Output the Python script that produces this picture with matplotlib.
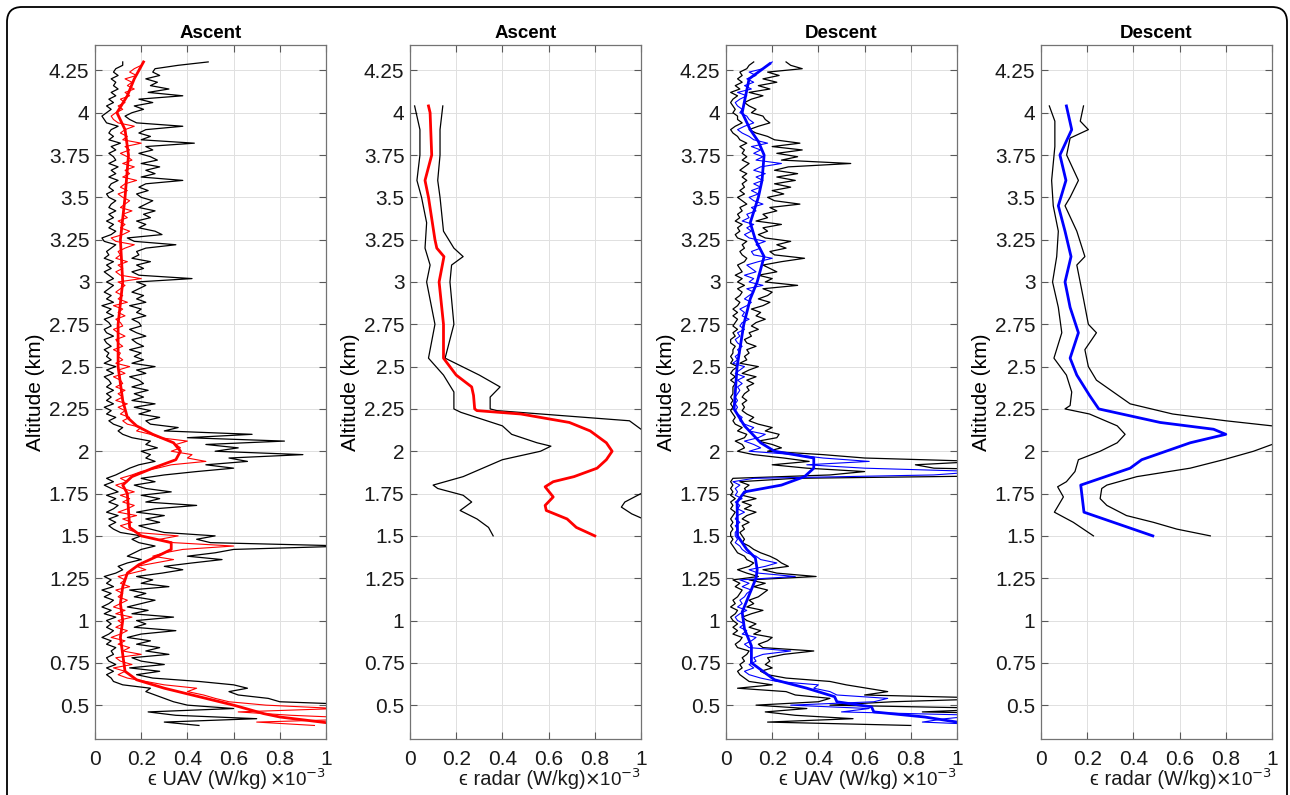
import matplotlib.pyplot as plt
import numpy as np
from matplotlib.patches import FancyBboxPatch

plt.rcParams['font.family'] = ['Liberation Sans', 'DejaVu Sans']

# ---- UAV profiles (altitude in km, dissipation in 1e-3 W/kg) ----
alt_uav = [0.38, 0.40, 0.42, 0.44, 0.46, 0.48, 0.50, 0.52, 0.54, 0.56,
           0.58, 0.60, 0.62, 0.64, 0.66, 0.68, 0.70, 0.72, 0.74, 0.76,
           0.78, 0.80, 0.82, 0.84, 0.86, 0.88, 0.90, 0.92, 0.94, 0.96,
           0.98, 1.00, 1.02, 1.04, 1.06, 1.08, 1.10, 1.12, 1.14, 1.16,
           1.18, 1.20, 1.22, 1.24, 1.26, 1.28, 1.30, 1.32, 1.34, 1.36,
           1.38, 1.40, 1.42, 1.44, 1.46, 1.48, 1.50, 1.52, 1.54, 1.56,
           1.58, 1.60, 1.62, 1.64, 1.66, 1.68, 1.70, 1.72, 1.74, 1.76,
           1.78, 1.80, 1.82, 1.84, 1.86, 1.88, 1.90, 1.92, 1.94, 1.96,
           1.98, 2.00, 2.02, 2.04, 2.06, 2.08, 2.10, 2.12, 2.14, 2.16,
           2.18, 2.20, 2.22, 2.24, 2.26, 2.28, 2.30, 2.32, 2.34, 2.36,
           2.38, 2.40, 2.42, 2.44, 2.46, 2.48, 2.50, 2.52, 2.54, 2.56,
           2.58, 2.60, 2.62, 2.64, 2.66, 2.68, 2.70, 2.72, 2.74, 2.76,
           2.78, 2.80, 2.82, 2.84, 2.86, 2.88, 2.90, 2.92, 2.94, 2.96,
           2.98, 3.00, 3.02, 3.04, 3.06, 3.08, 3.10, 3.12, 3.14, 3.16,
           3.18, 3.20, 3.22, 3.24, 3.26, 3.28, 3.30, 3.32, 3.34, 3.36,
           3.38, 3.40, 3.42, 3.44, 3.46, 3.48, 3.50, 3.52, 3.54, 3.56,
           3.58, 3.60, 3.62, 3.64, 3.66, 3.68, 3.70, 3.72, 3.74, 3.76,
           3.78, 3.80, 3.82, 3.84, 3.86, 3.88, 3.90, 3.92, 3.94, 3.96,
           3.98, 4.00, 4.02, 4.04, 4.06, 4.08, 4.10, 4.12, 4.14, 4.16,
           4.18, 4.20, 4.22, 4.24, 4.26, 4.28, 4.30]

asc_raw = [0.95, 0.70, 1.20, 0.85, 0.62, 1.05, 0.74, 0.58, 0.52, 0.47,
           0.40, 0.44, 0.30, 0.22, 0.14, 0.10, 0.13, 0.08, 0.16, 0.11,
           0.09, 0.20, 0.12, 0.15, 0.10, 0.13, 0.07, 0.11, 0.14, 0.09,
           0.12, 0.10, 0.16, 0.09, 0.13, 0.08, 0.11, 0.14, 0.10, 0.12,
           0.09, 0.15, 0.11, 0.13, 0.10, 0.16, 0.22, 0.18, 0.26, 0.34,
           0.25, 0.30, 0.38, 0.60, 0.34, 0.28, 0.36, 0.18, 0.14, 0.11,
           0.16, 0.12, 0.18, 0.10, 0.14, 0.17, 0.12, 0.15, 0.11, 0.17,
           0.12, 0.09, 0.14, 0.11, 0.16, 0.20, 0.27, 0.33, 0.48, 0.40,
           0.42, 0.33, 0.37, 0.35, 0.40, 0.28, 0.24, 0.18, 0.20, 0.14,
           0.12, 0.15, 0.11, 0.13, 0.10, 0.14, 0.09, 0.12, 0.10, 0.13,
           0.09, 0.12, 0.11, 0.08, 0.13, 0.10, 0.15, 0.09, 0.12, 0.10,
           0.11, 0.08, 0.12, 0.10, 0.09, 0.13, 0.10, 0.08, 0.12, 0.11,
           0.09, 0.13, 0.10, 0.12, 0.08, 0.14, 0.10, 0.12, 0.09, 0.11,
           0.13, 0.10, 0.20, 0.11, 0.09, 0.12, 0.10, 0.14, 0.09, 0.11,
           0.10, 0.13, 0.17, 0.09, 0.07, 0.12, 0.15, 0.11, 0.13, 0.10,
           0.14, 0.12, 0.16, 0.11, 0.13, 0.15, 0.12, 0.10, 0.14, 0.11,
           0.13, 0.18, 0.12, 0.15, 0.13, 0.17, 0.12, 0.16, 0.14, 0.11,
           0.15, 0.13, 0.20, 0.12, 0.14, 0.11, 0.13, 0.17, 0.10, 0.08,
           0.07, 0.09, 0.12, 0.10, 0.13, 0.11, 0.15, 0.13, 0.17, 0.14,
           0.16, 0.13, 0.18, 0.15, 0.17, 0.20, 0.21]
asc_lo = [0.45, 0.30, 0.70, 0.35, 0.23, 0.60, 0.40, 0.34, 0.30, 0.26,
          0.22, 0.24, 0.12, 0.08, 0.07, 0.05, 0.08, 0.05, 0.09, 0.06,
          0.05, 0.08, 0.07, 0.09, 0.05, 0.07, 0.03, 0.06, 0.08, 0.05,
          0.07, 0.05, 0.09, 0.04, 0.07, 0.03, 0.06, 0.08, 0.04, 0.07,
          0.03, 0.08, 0.05, 0.07, 0.04, 0.09, 0.12, 0.10, 0.14, 0.20,
          0.14, 0.17, 0.20, 0.26, 0.19, 0.16, 0.20, 0.11, 0.08, 0.06,
          0.09, 0.06, 0.10, 0.05, 0.08, 0.10, 0.06, 0.09, 0.05, 0.10,
          0.07, 0.04, 0.08, 0.05, 0.09, 0.12, 0.15, 0.19, 0.26, 0.22,
          0.24, 0.20, 0.27, 0.22, 0.24, 0.16, 0.12, 0.10, 0.12, 0.08,
          0.06, 0.09, 0.05, 0.07, 0.04, 0.08, 0.05, 0.07, 0.05, 0.08,
          0.05, 0.07, 0.06, 0.04, 0.08, 0.05, 0.09, 0.04, 0.07, 0.05,
          0.06, 0.04, 0.07, 0.05, 0.04, 0.08, 0.05, 0.04, 0.07, 0.06,
          0.04, 0.08, 0.05, 0.07, 0.03, 0.08, 0.05, 0.07, 0.04, 0.06,
          0.08, 0.05, 0.08, 0.06, 0.04, 0.07, 0.05, 0.08, 0.04, 0.06,
          0.05, 0.07, 0.09, 0.04, 0.03, 0.07, 0.09, 0.06, 0.08, 0.05,
          0.08, 0.06, 0.09, 0.06, 0.07, 0.09, 0.06, 0.05, 0.08, 0.06,
          0.07, 0.10, 0.06, 0.09, 0.07, 0.10, 0.06, 0.09, 0.08, 0.06,
          0.09, 0.07, 0.11, 0.06, 0.08, 0.06, 0.07, 0.10, 0.05, 0.04,
          0.03, 0.05, 0.07, 0.05, 0.08, 0.06, 0.09, 0.07, 0.10, 0.08,
          0.09, 0.07, 0.10, 0.08, 0.09, 0.12, 0.12]
asc_hi = [1.50, 1.10, 1.60, 1.30, 1.05, 1.50, 1.20, 0.80, 0.75, 0.62,
          0.58, 0.66, 0.60, 0.45, 0.25, 0.18, 0.28, 0.15, 0.30, 0.20,
          0.16, 0.32, 0.22, 0.28, 0.18, 0.24, 0.14, 0.20, 0.35, 0.17,
          0.22, 0.18, 0.34, 0.16, 0.23, 0.14, 0.20, 0.26, 0.17, 0.22,
          0.15, 0.32, 0.20, 0.25, 0.18, 0.29, 0.38, 0.30, 0.42, 0.55,
          0.40, 0.52, 0.60, 1.10, 0.50, 0.44, 0.52, 0.30, 0.24, 0.19,
          0.28, 0.22, 0.30, 0.18, 0.26, 0.44, 0.22, 0.28, 0.20, 0.33,
          0.22, 0.17, 0.26, 0.20, 0.30, 0.44, 0.60, 0.48, 0.66, 0.58,
          0.90, 0.52, 0.62, 0.48, 0.82, 0.40, 0.68, 0.30, 0.36, 0.24,
          0.22, 0.28, 0.19, 0.24, 0.17, 0.26, 0.16, 0.21, 0.17, 0.23,
          0.16, 0.21, 0.19, 0.15, 0.22, 0.18, 0.26, 0.16, 0.21, 0.17,
          0.20, 0.15, 0.21, 0.18, 0.16, 0.22, 0.18, 0.15, 0.20, 0.19,
          0.16, 0.22, 0.18, 0.20, 0.15, 0.22, 0.18, 0.21, 0.16, 0.19,
          0.22, 0.18, 0.42, 0.19, 0.16, 0.21, 0.18, 0.24, 0.16, 0.19,
          0.18, 0.22, 0.35, 0.17, 0.14, 0.29, 0.26, 0.19, 0.22, 0.18,
          0.24, 0.21, 0.26, 0.19, 0.22, 0.25, 0.20, 0.18, 0.23, 0.19,
          0.22, 0.38, 0.20, 0.26, 0.22, 0.28, 0.20, 0.27, 0.24, 0.19,
          0.25, 0.22, 0.43, 0.20, 0.24, 0.19, 0.22, 0.38, 0.18, 0.15,
          0.13, 0.16, 0.21, 0.17, 0.25, 0.19, 0.38, 0.23, 0.32, 0.24,
          0.27, 0.22, 0.28, 0.25, 0.26, 0.36, 0.49]

asc_alt_s = [0.38, 0.43, 0.45, 0.50, 0.55, 0.60, 0.65, 0.70, 0.80, 0.90,
             1.00, 1.10, 1.20, 1.28, 1.33, 1.38, 1.42, 1.46, 1.50, 1.55,
             1.65, 1.75, 1.80, 1.85, 1.90, 1.95, 2.00, 2.05, 2.10, 2.15,
             2.20, 2.30, 2.50, 2.75, 3.00, 3.25, 3.50, 3.75, 3.90, 4.00,
             4.10, 4.20, 4.30]
asc_smooth = [1.10, 0.80, 0.73, 0.60, 0.45, 0.30, 0.18, 0.13, 0.12, 0.11,
              0.12, 0.11, 0.12, 0.14, 0.19, 0.27, 0.33, 0.33, 0.20, 0.15,
              0.145, 0.14, 0.12, 0.16, 0.25, 0.35, 0.37, 0.34, 0.25, 0.18,
              0.14, 0.12, 0.10, 0.10, 0.12, 0.11, 0.13, 0.145, 0.13, 0.095,
              0.14, 0.17, 0.21]

desc_raw = [1.20, 0.85, 0.95, 1.10, 0.50, 0.62, 0.28, 0.64, 0.70, 0.48,
            0.45, 0.38, 0.40, 0.22, 0.15, 0.10, 0.08, 0.12, 0.10, 0.13,
            0.12, 0.16, 0.28, 0.10, 0.08, 0.11, 0.13, 0.07, 0.09, 0.06,
            0.08, 0.05, 0.04, 0.06, 0.09, 0.05, 0.07, 0.06, 0.08, 0.09,
            0.11, 0.07, 0.10, 0.06, 0.30, 0.14, 0.10, 0.17, 0.22, 0.15,
            0.13, 0.09, 0.07, 0.06, 0.04, 0.05, 0.04, 0.04, 0.05, 0.04,
            0.06, 0.04, 0.05, 0.08, 0.05, 0.06, 0.04, 0.07, 0.04, 0.05,
            0.04, 0.06, 0.03, 0.12, 0.90, 1.10, 0.60, 0.35, 0.62, 0.42,
            0.30, 0.10, 0.15, 0.12, 0.08, 0.14, 0.17, 0.10, 0.12, 0.08,
            0.06, 0.07, 0.05, 0.04, 0.05, 0.04, 0.05, 0.04, 0.05, 0.06,
            0.05, 0.07, 0.05, 0.08, 0.04, 0.06, 0.08, 0.03, 0.05, 0.04,
            0.06, 0.05, 0.07, 0.05, 0.04, 0.06, 0.05, 0.08, 0.06, 0.07,
            0.10, 0.07, 0.08, 0.06, 0.09, 0.11, 0.08, 0.10, 0.12, 0.09,
            0.16, 0.10, 0.12, 0.08, 0.13, 0.11, 0.09, 0.14, 0.20, 0.12,
            0.11, 0.15, 0.13, 0.17, 0.10, 0.08, 0.11, 0.09, 0.12, 0.07,
            0.10, 0.09, 0.13, 0.11, 0.16, 0.12, 0.10, 0.14, 0.11, 0.15,
            0.12, 0.16, 0.13, 0.17, 0.12, 0.15, 0.24, 0.13, 0.16, 0.12,
            0.15, 0.11, 0.18, 0.12, 0.10, 0.07, 0.05, 0.08, 0.12, 0.10,
            0.09, 0.06, 0.07, 0.05, 0.04, 0.06, 0.09, 0.05, 0.11, 0.08,
            0.12, 0.09, 0.13, 0.10, 0.16, 0.18, 0.20]
desc_lo = [0.80, 0.18, 0.55, 0.30, 0.17, 0.35, 0.13, 0.40, 0.45, 0.30,
           0.26, 0.05, 0.20, 0.10, 0.08, 0.06, 0.05, 0.07, 0.06, 0.08,
           0.07, 0.09, 0.10, 0.05, 0.04, 0.06, 0.07, 0.03, 0.05, 0.03,
           0.05, 0.03, 0.02, 0.04, 0.05, 0.02, 0.04, 0.03, 0.05, 0.06,
           0.07, 0.04, 0.06, 0.03, 0.14, 0.09, 0.05, 0.10, 0.12, 0.09,
           0.08, 0.05, 0.04, 0.03, 0.02, 0.03, 0.02, 0.02, 0.03, 0.02,
           0.03, 0.02, 0.03, 0.04, 0.02, 0.03, 0.02, 0.04, 0.02, 0.03,
           0.02, 0.03, 0.02, 0.03, 0.45, 0.60, 0.35, 0.20, 0.36, 0.25,
           0.12, 0.05, 0.08, 0.07, 0.04, 0.08, 0.09, 0.05, 0.07, 0.04,
           0.03, 0.04, 0.03, 0.02, 0.03, 0.02, 0.03, 0.02, 0.03, 0.03,
           0.03, 0.04, 0.02, 0.04, 0.02, 0.03, 0.05, 0.02, 0.03, 0.02,
           0.03, 0.03, 0.04, 0.02, 0.02, 0.04, 0.03, 0.05, 0.03, 0.04,
           0.05, 0.03, 0.05, 0.03, 0.05, 0.06, 0.04, 0.06, 0.07, 0.05,
           0.08, 0.05, 0.07, 0.04, 0.07, 0.06, 0.05, 0.08, 0.09, 0.07,
           0.06, 0.08, 0.07, 0.09, 0.05, 0.04, 0.06, 0.05, 0.07, 0.04,
           0.06, 0.05, 0.07, 0.06, 0.09, 0.07, 0.05, 0.08, 0.06, 0.08,
           0.07, 0.09, 0.07, 0.09, 0.06, 0.08, 0.10, 0.07, 0.09, 0.07,
           0.08, 0.06, 0.09, 0.06, 0.05, 0.03, 0.02, 0.04, 0.07, 0.05,
           0.05, 0.03, 0.04, 0.03, 0.02, 0.03, 0.05, 0.02, 0.06, 0.04,
           0.07, 0.05, 0.07, 0.06, 0.09, 0.10, 0.12]
desc_hi = [1.60, 1.30, 1.50, 1.70, 0.85, 1.20, 0.45, 0.72, 1.20, 0.60,
           0.70, 0.61, 0.52, 0.45, 0.26, 0.18, 0.15, 0.20, 0.17, 0.19,
           0.18, 0.25, 0.38, 0.16, 0.14, 0.18, 0.20, 0.12, 0.15, 0.10,
           0.13, 0.09, 0.07, 0.11, 0.16, 0.09, 0.12, 0.10, 0.14, 0.16,
           0.18, 0.12, 0.17, 0.10, 0.39, 0.22, 0.16, 0.27, 0.24, 0.22,
           0.19, 0.15, 0.12, 0.10, 0.07, 0.08, 0.07, 0.06, 0.08, 0.07,
           0.10, 0.07, 0.09, 0.13, 0.08, 0.11, 0.07, 0.13, 0.07, 0.09,
           0.08, 0.10, 0.06, 0.30, 1.50, 1.60, 0.90, 0.82, 1.10, 0.60,
           0.42, 0.18, 0.24, 0.20, 0.14, 0.22, 0.23, 0.17, 0.20, 0.14,
           0.10, 0.12, 0.09, 0.07, 0.08, 0.07, 0.09, 0.07, 0.08, 0.10,
           0.09, 0.12, 0.09, 0.13, 0.07, 0.10, 0.14, 0.06, 0.09, 0.08,
           0.10, 0.09, 0.13, 0.09, 0.08, 0.11, 0.10, 0.14, 0.11, 0.13,
           0.17, 0.13, 0.15, 0.11, 0.16, 0.19, 0.14, 0.18, 0.20, 0.16,
           0.31, 0.17, 0.20, 0.14, 0.22, 0.19, 0.16, 0.24, 0.34, 0.21,
           0.19, 0.26, 0.22, 0.28, 0.17, 0.14, 0.18, 0.16, 0.24, 0.13,
           0.18, 0.16, 0.22, 0.19, 0.32, 0.21, 0.18, 0.25, 0.20, 0.28,
           0.21, 0.30, 0.22, 0.31, 0.21, 0.27, 0.54, 0.24, 0.31, 0.22,
           0.33, 0.20, 0.32, 0.21, 0.18, 0.13, 0.10, 0.14, 0.19, 0.17,
           0.16, 0.11, 0.13, 0.10, 0.08, 0.11, 0.16, 0.10, 0.19, 0.14,
           0.22, 0.16, 0.23, 0.18, 0.33, 0.28, 0.26]

desc_alt_s = [0.38, 0.40, 0.43, 0.46, 0.49, 0.52, 0.55, 0.60, 0.65, 0.70,
              0.75, 0.85, 0.95, 1.05, 1.15, 1.25, 1.30, 1.37, 1.42, 1.50,
              1.70, 1.76, 1.80, 1.85, 1.90, 1.96, 2.00, 2.05, 2.15, 2.25,
              2.50, 2.75, 2.90, 3.00, 3.15, 3.25, 3.35, 3.50, 3.60, 3.75,
              3.83, 3.90, 4.00, 4.10, 4.20, 4.25, 4.29]
desc_smooth = [1.10, 1.00, 0.86, 0.64, 0.63, 0.48, 0.47, 0.35, 0.21, 0.16,
               0.11, 0.11, 0.08, 0.07, 0.10, 0.13, 0.135, 0.127, 0.09, 0.05,
               0.048, 0.08, 0.24, 0.34, 0.38, 0.38, 0.21, 0.15, 0.08, 0.035,
               0.048, 0.077, 0.105, 0.135, 0.165, 0.127, 0.105, 0.14, 0.156, 0.165,
               0.14, 0.105, 0.07, 0.085, 0.10, 0.15, 0.19]

# ---- radar profiles ----
asc_radar_alt = [1.50, 1.55, 1.60, 1.65, 1.68, 1.73, 1.79, 1.82, 1.85, 1.90,
                 1.95, 2.00, 2.05, 2.12, 2.17, 2.22, 2.24, 2.25, 2.33, 2.38,
                 2.45, 2.55, 2.75, 3.00, 3.15, 3.20, 3.25, 3.50, 3.60, 3.75,
                 4.00, 4.04]
asc_radar = [0.80, 0.72, 0.68, 0.59, 0.585, 0.62, 0.585, 0.62, 0.71, 0.81,
             0.85, 0.875, 0.85, 0.78, 0.69, 0.48, 0.29, 0.28, 0.275, 0.267,
             0.20, 0.145, 0.145, 0.126, 0.147, 0.116, 0.108, 0.08, 0.065, 0.094,
             0.087, 0.08]
asc_lo_alt = [1.50, 1.55, 1.60, 1.65, 1.70, 1.74, 1.78, 1.80, 1.85, 1.95,
              2.00, 2.03, 2.05, 2.10, 2.15, 2.23, 2.25, 2.35, 2.45, 2.55,
              2.75, 3.00, 3.10, 3.20, 3.35, 3.50, 3.60, 3.75, 3.90, 4.04]
asc_radar_lo = [0.36, 0.34, 0.29, 0.217, 0.267, 0.23, 0.12, 0.10, 0.23, 0.40,
                0.565, 0.61, 0.55, 0.44, 0.40, 0.22, 0.19, 0.19, 0.145, 0.08,
                0.108, 0.072, 0.087, 0.065, 0.072, 0.05, 0.03, 0.043, 0.043, 0.02]
asc_hi_alt = [1.50, 1.55, 1.60, 1.63, 1.67, 1.70, 1.75, 1.80, 1.90, 2.00,
              2.10, 2.13, 2.18, 2.24, 2.25, 2.32, 2.38, 2.45, 2.55, 2.75,
              3.00, 3.10, 3.15, 3.20, 3.30, 3.50, 3.60, 3.75, 3.90, 4.04]
asc_radar_hi = [1.20, 1.10, 1.01, 0.96, 0.915, 0.93, 1.00, 1.15, 1.40, 1.30,
                1.05, 1.00, 0.95, 0.376, 0.347, 0.347, 0.39, 0.30, 0.152, 0.19,
                0.173, 0.18, 0.23, 0.19, 0.145, 0.13, 0.12, 0.13, 0.13, 0.142]

desc_radar_alt = [1.50, 1.64, 1.80, 1.90, 1.95, 2.05, 2.10, 2.13, 2.17, 2.25,
                  2.33, 2.45, 2.55, 2.70, 2.85, 3.00, 3.15, 3.30, 3.45, 3.60,
                  3.75, 3.90, 4.04]
desc_radar = [0.484, 0.186, 0.172, 0.386, 0.436, 0.646, 0.80, 0.747, 0.516, 0.25,
              0.21, 0.155, 0.126, 0.162, 0.126, 0.104, 0.13, 0.104, 0.075, 0.108,
              0.082, 0.133, 0.11]
desc_lo_alt = [1.50, 1.58, 1.64, 1.73, 1.79, 1.82, 1.88, 1.95, 2.00, 2.05,
               2.10, 2.15, 2.22, 2.25, 2.27, 2.35, 2.45, 2.55, 2.70, 2.85,
               3.00, 3.15, 3.30, 3.45, 3.60, 3.80, 3.95, 4.04]
desc_radar_lo = [0.227, 0.14, 0.058, 0.097, 0.072, 0.11, 0.147, 0.162, 0.256, 0.33,
                 0.364, 0.33, 0.21, 0.104, 0.126, 0.133, 0.11, 0.056, 0.09, 0.075,
                 0.05, 0.068, 0.075, 0.053, 0.046, 0.06, 0.06, 0.036]
desc_hi_alt = [1.50, 1.54, 1.58, 1.62, 1.68, 1.72, 1.78, 1.80, 1.85, 1.90,
               1.95, 2.00, 2.04, 2.07, 2.10, 2.15, 2.18, 2.22, 2.28, 2.35,
               2.42, 2.50, 2.60, 2.70, 2.75, 2.90, 3.10, 3.15, 3.30, 3.45,
               3.50, 3.60, 3.75, 3.85, 3.90, 3.95, 4.04]
desc_radar_hi = [0.733, 0.588, 0.487, 0.37, 0.285, 0.256, 0.263, 0.285, 0.415, 0.646,
                 0.79, 0.92, 1.00, 1.08, 1.12, 1.00, 0.80, 0.57, 0.386, 0.313,
                 0.24, 0.205, 0.19, 0.24, 0.205, 0.184, 0.155, 0.19, 0.155, 0.104,
                 0.126, 0.162, 0.111, 0.126, 0.205, 0.17, 0.184]

titles = ['Ascent', 'Ascent', 'Descent', 'Descent']
xlabels = ['ϵ UAV (W/kg)', 'ϵ radar (W/kg)', 'ϵ UAV (W/kg)', 'ϵ radar (W/kg)']
yticks = [0.5, 0.75, 1, 1.25, 1.5, 1.75, 2, 2.25, 2.5, 2.75, 3, 3.25, 3.5, 3.75, 4, 4.25]
ytick_labels = ['0.5', '0.75', '1', '1.25', '1.5', '1.75', '2', '2.25',
                '2.5', '2.75', '3', '3.25', '3.5', '3.75', '4', '4.25']
xticks = [0, 0.2, 0.4, 0.6, 0.8, 1]
xtick_labels = ['0', '0.2', '0.4', '0.6', '0.8', '1']

fig = plt.figure(figsize=(12.9, 7.95), dpi=100)

# rounded frame around the whole figure
frame = FancyBboxPatch((0.07, -0.3), 12.80, 8.18,
                       boxstyle='round,pad=0,rounding_size=0.15',
                       transform=fig.dpi_scale_trans, fill=False,
                       ec='black', lw=1.3)
fig.patches.append(frame)

lefts = [95, 410, 726, 1041]
axes = []
for l in lefts:
    ax = fig.add_axes([l / 1290, 56 / 795, 231 / 1290, 694 / 795])
    axes.append(ax)

# panel 1 - ascent UAV
ax = axes[0]
ax.plot(asc_lo, alt_uav, color='k', lw=0.9)
ax.plot(asc_hi, alt_uav, color='k', lw=0.9)
ax.plot(asc_raw, alt_uav, color='r', lw=0.8)
ax.plot(asc_smooth, asc_alt_s, color='r', lw=2.0)

# panel 2 - ascent radar
ax = axes[1]
ax.plot(asc_radar_lo, asc_lo_alt, color='k', lw=0.9)
ax.plot(asc_radar_hi, asc_hi_alt, color='k', lw=0.9)
ax.plot(asc_radar, asc_radar_alt, color='r', lw=2.0)

# panel 3 - descent UAV
ax = axes[2]
ax.plot(desc_lo, alt_uav, color='k', lw=0.9)
ax.plot(desc_hi, alt_uav, color='k', lw=0.9)
ax.plot(desc_raw, alt_uav, color='b', lw=0.8)
ax.plot(desc_smooth, desc_alt_s, color='b', lw=2.0)

# panel 4 - descent radar
ax = axes[3]
ax.plot(desc_radar_lo, desc_lo_alt, color='k', lw=0.9)
ax.plot(desc_radar_hi, desc_hi_alt, color='k', lw=0.9)
ax.plot(desc_radar, desc_radar_alt, color='b', lw=2.0)

for ax, t, xl in zip(axes, titles, xlabels):
    ax.set_xlim(0, 1)
    ax.set_ylim(0.3, 4.4)
    ax.set_yticks(yticks)
    ax.set_yticklabels(ytick_labels)
    ax.set_xticks(xticks)
    ax.set_xticklabels(xtick_labels)
    ax.tick_params(direction='in', length=5, width=0.8, color='0.35',
                   labelsize=15, labelcolor='0.1', top=True, right=True)
    ax.tick_params(axis='x', pad=8)
    ax.tick_params(axis='y', pad=4)
    for s in ax.spines.values():
        s.set_color('0.45')
        s.set_linewidth(0.9)
    ax.grid(True, color='0.88', lw=0.7)
    ax.set_axisbelow(True)
    ax.set_title(t, fontsize=13.5, fontweight='bold', pad=5)
    ax.set_ylabel('Altitude (km)', fontsize=15)
    ax.yaxis.set_label_coords(-0.215, 0.5)
    ax.text(0.485, -0.066, xl, transform=ax.transAxes, ha='center',
            va='baseline', fontsize=14.5, color='0.1')
    ax.text(1.0, -0.068, r'$\times$10$^{-3}$', transform=ax.transAxes,
            ha='right', va='baseline', fontsize=13.5, color='0.1')

fig.savefig('out.png', dpi=100)
